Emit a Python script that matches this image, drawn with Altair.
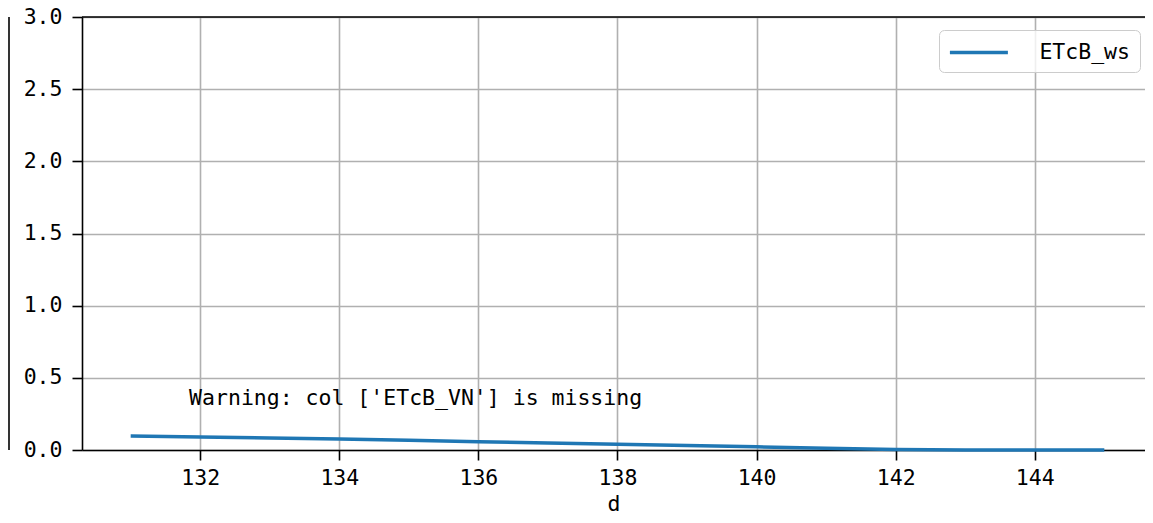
import altair as alt
import pandas as pd

# ---- data ----
days = [131, 132, 133, 134, 135, 136, 137, 138, 139, 140, 141, 142, 143, 144, 145]
etcb_ws = [0.097, 0.090, 0.083, 0.076, 0.067, 0.058, 0.049, 0.040, 0.031, 0.022,
           0.012, 0.003, 0.0, 0.0, 0.0]
series_names = ["ETcB_ws"]
x_ticks = [132, 134, 136, 138, 140, 142, 144]
y_ticks = [0.0, 0.5, 1.0, 1.5, 2.0, 2.5, 3.0]
x_domain = [130.3, 145.585]
y_domain = [0.0, 3.0]
warning_text = ["Warning: col ['ETcB_VN'] is missing"]
warning_pos = [131.84, 0.353]

FONT = "DejaVu Sans Mono"
FS = 21.5
W, H = 1063, 433
BLUE = "#1f77b4"
GRID = "#b0b0b0"

df = pd.DataFrame({"d": days, "value": etcb_ws, "series": series_names[0]})
df_text = pd.DataFrame({"x": [warning_pos[0]], "y": [warning_pos[1]], "t": warning_text})

x_scale = alt.Scale(domain=x_domain, nice=False, zero=False)
y_scale = alt.Scale(domain=y_domain, nice=False, zero=False)

line = alt.Chart(df).mark_line(strokeWidth=3.5).encode(
    x=alt.X("d:Q", scale=x_scale,
            axis=alt.Axis(title="d", values=x_ticks, format="d", grid=True,
                          tickSize=10, labelPadding=7,
                          titleBaseline="alphabetic", titleY=60)),
    y=alt.Y("value:Q", scale=y_scale,
            axis=alt.Axis(title=None, values=y_ticks, format=".1f", grid=True,
                          tickSize=10, labelPadding=10)),
    color=alt.Color("series:N", scale=alt.Scale(domain=series_names, range=[BLUE]),
                    legend=alt.Legend(title=None, orient="none", legendX=857, legendY=13,
                                      symbolType="M-2.5,0H2.5", symbolSize=538,
                                      symbolOffset=17.4, symbolStrokeWidth=3.5,
                                      labelOffset=47,
                                      padding=9, strokeColor="#cccccc",
                                      cornerRadius=5, fillColor="rgba(255,255,255,0.8)",
                                      labelFont=FONT, labelFontSize=FS,
                                      labelColor="black")),
)

text = alt.Chart(df_text).mark_text(align="left", baseline="middle", font=FONT,
                                    fontSize=FS, color="black").encode(
    x=alt.X("x:Q", scale=x_scale),
    y=alt.Y("y:Q", scale=y_scale),
    text="t:N",
)

top_spine = alt.Chart(df_text).mark_rule(color="black", strokeWidth=1.6).encode(
    x=alt.value(0), x2=alt.value(W), y=alt.value(0)
)

left_line = alt.Chart(df_text).mark_rule(color="black", strokeWidth=1.6).encode(
    x=alt.value(-73), y=alt.value(0), y2=alt.value(H)
)

chart = alt.layer(line, text, top_spine, left_line).properties(
    width=W, height=H,
    autosize=alt.AutoSizeParams(type="none"),
    padding={"left": 74, "top": 9, "right": 0, "bottom": 65},
).configure_view(stroke=None).configure_axis(
    labelFont=FONT, labelFontSize=FS, labelColor="black",
    titleFont=FONT, titleFontSize=FS, titleFontWeight="normal", titleColor="black",
    domainColor="black", domainWidth=1.6, tickColor="black", tickWidth=1.6,
    gridColor=GRID, gridWidth=1.6, gridOpacity=1,
).configure_legend(labelFont=FONT)

chart.save("out.html", embed_options={"renderer": "svg", "actions": False})
